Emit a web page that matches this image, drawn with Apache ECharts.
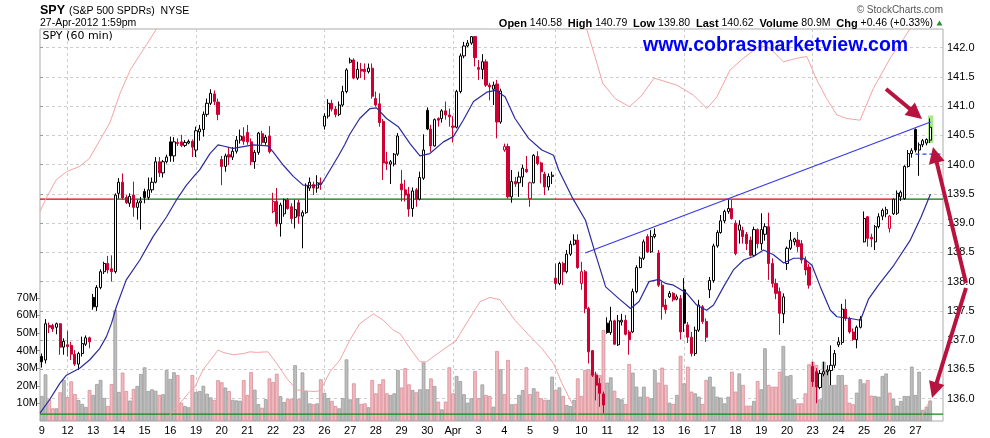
<!DOCTYPE html>
<html><head><meta charset="utf-8">
<script src="https://cdn.jsdelivr.net/npm/echarts@6/dist/echarts.min.js"></script>
<style>html,body{margin:0;padding:0;background:#fff}#c{width:990px;height:438px}</style>
</head><body><div id="c"></div>
<script>
// ---------- data ----------
const dayLabels = ['9','12','13','14','15','16','19','20','21','22','23','26','27','28','29','30','Apr','3','4','5','9','10','11','12','13','16','17','18','19','20','23','24','25','26','27'];
const barsPerDay = [7,7,7,7,7,7,7,7,7,7,7,7,7,7,7,7,7,7,7,7,7,7,7,7,7,7,7,7,7,7,7,7,7,7,5];
const weekStartDays = [1,6,11,16,20,25,30];

const open = [
136.72,136.66,137.25,137.25,137.22,137.28,136.88,
136.92,136.91,136.76,136.59,136.77,136.93,137.04,
137.73,137.57,137.90,138.17,138.31,138.22,138.17,
139.51,139.70,139.44,139.34,139.48,139.27,139.35,
139.54,139.44,139.57,139.70,140.05,139.86,140.05,
140.39,140.15,140.36,140.39,140.33,140.37,140.40,
140.25,140.56,140.60,140.86,141.05,141.21,141.07,
140.09,139.97,140.17,140.13,140.23,140.42,140.48,
140.55,140.39,140.05,140.21,140.53,140.38,140.49,
139.20,139.37,138.99,139.16,139.40,139.28,139.10,
139.35,139.12,139.18,139.60,139.66,139.60,139.69,
140.66,140.83,141.05,140.95,140.86,141.02,141.25,
141.75,141.79,141.48,141.63,141.63,141.59,141.65,
141.13,141.04,140.74,140.05,140.01,140.01,140.18,
139.67,139.57,139.50,139.25,139.57,139.41,139.77,
140.93,140.61,140.32,140.79,140.79,140.92,140.85,
140.66,140.64,141.25,141.86,142.03,142.08,142.19,
141.66,141.63,141.76,141.36,141.29,141.38,140.73,
140.25,140.31,139.45,139.71,139.69,139.79,139.92,
139.42,139.69,140.14,140.03,139.84,139.62,139.80,
138.06,137.97,138.31,138.17,138.47,138.64,138.71,
137.97,138.17,137.54,136.82,136.40,136.26,136.08,
137.29,137.13,137.33,136.92,137.31,137.34,137.14,
137.14,137.83,138.24,138.40,138.77,138.51,138.77,
138.49,137.94,137.60,137.74,137.80,137.70,137.71,
137.86,137.26,137.05,136.77,137.17,137.57,137.32,
137.86,138.02,138.61,138.84,139.04,139.20,139.25,
139.00,138.88,138.88,138.81,138.71,138.45,138.89,
138.65,138.81,138.94,138.31,137.97,137.83,137.45,
138.31,138.57,138.68,138.71,138.65,138.37,138.25,
136.55,136.46,136.19,136.42,136.46,136.48,136.57,
136.92,136.96,137.53,137.37,137.14,137.01,137.22,
138.68,139.11,138.76,138.68,138.94,139.12,139.16,
138.91,139.16,139.17,139.45,139.42,139.97,140.19,
140.60,140.25,140.34,140.37,140.42];
const high = [
136.77,137.36,137.30,137.28,137.30,137.29,137.03,
137.16,136.97,136.83,136.80,137.06,137.08,137.06,
137.79,137.94,138.21,138.34,138.44,138.45,139.51,
139.77,139.85,139.48,139.51,139.71,139.40,139.45,
139.59,139.78,139.78,140.13,140.13,140.08,140.17,
140.48,140.47,140.45,140.51,140.42,140.43,140.43,
140.65,140.68,140.91,141.13,141.29,141.27,141.13,
140.15,140.19,140.30,140.30,140.49,140.60,140.64,
140.68,140.45,140.25,140.56,140.58,140.51,140.66,
139.52,139.60,139.35,139.42,139.43,139.34,139.40,
139.40,139.22,139.68,139.78,139.71,139.82,139.78,
140.88,141.12,141.11,141.00,141.08,141.35,141.65,
141.83,141.82,141.76,141.74,141.73,141.73,141.73,
141.25,141.22,140.78,140.22,140.08,140.20,140.54,
139.91,139.74,139.62,139.61,139.60,139.88,140.52,
140.98,140.68,140.79,140.81,140.95,141.08,140.96,
140.83,141.28,141.90,142.10,142.13,142.20,142.20,
141.79,141.89,141.80,141.40,141.42,141.45,141.30,
140.36,140.36,139.91,139.79,139.88,140.00,140.15,
139.71,140.18,140.23,140.05,139.88,139.85,139.88,
138.31,138.34,138.34,138.54,138.70,138.81,138.81,
138.34,138.20,137.57,136.83,136.46,136.35,136.12,
137.39,137.57,137.35,137.43,137.45,137.43,137.17,
137.88,138.28,138.43,138.72,138.81,138.88,138.91,
138.54,138.00,137.70,137.84,137.82,137.78,137.77,
138.06,137.31,137.14,137.23,137.69,137.60,137.37,
138.08,138.65,138.88,139.14,139.23,139.40,139.40,
139.05,139.05,138.94,138.85,138.77,138.94,138.91,
139.17,139.00,139.18,138.40,138.05,137.90,137.80,
138.60,138.85,138.75,138.85,138.71,138.43,138.30,
136.63,136.52,136.49,136.63,136.57,136.91,136.83,
137.05,137.62,137.70,137.40,137.20,137.25,137.41,
139.20,139.12,138.82,138.97,139.17,139.25,139.28,
139.14,139.42,139.56,139.56,139.99,140.25,140.28,
140.62,140.38,140.44,140.45,140.79];
const low = [
136.53,136.60,137.12,137.14,137.10,136.75,136.75,
136.72,136.66,136.56,136.49,136.72,136.90,136.86,
137.52,137.50,137.87,138.13,138.14,138.00,138.14,
139.42,139.40,139.33,139.28,139.11,139.06,138.89,
139.34,139.40,139.52,139.68,139.79,139.78,140.02,
140.05,140.05,140.32,140.30,140.30,140.35,140.13,
140.13,140.41,140.48,140.82,141.02,141.02,140.76,
139.65,139.88,139.99,140.08,140.19,140.36,140.34,
140.34,139.99,139.93,140.17,140.34,140.34,140.19,
139.17,138.94,138.77,139.11,139.23,138.99,138.91,
138.99,138.57,139.16,139.55,139.48,139.52,139.57,
140.60,140.79,140.91,140.81,140.83,140.99,141.22,
141.73,141.46,141.45,141.48,141.45,141.56,141.13,
140.99,140.65,139.74,139.91,139.67,139.97,140.15,
139.37,139.37,139.11,139.11,139.28,139.39,139.74,
140.59,140.22,140.31,140.65,140.72,140.77,140.65,
140.38,140.62,141.22,141.82,142.01,142.05,141.68,
141.45,141.46,141.33,141.10,141.02,140.45,140.70,
140.22,139.42,139.35,139.62,139.45,139.62,139.86,
139.28,139.68,139.99,139.68,139.48,139.56,139.67,
137.86,137.94,137.94,138.14,138.44,138.62,138.22,
137.86,137.46,136.60,136.37,135.97,135.86,135.75,
137.11,137.09,136.92,136.90,137.25,137.08,136.75,
137.12,137.80,138.23,138.37,138.49,138.49,138.74,
137.91,137.35,137.45,137.72,137.66,137.68,137.01,
137.14,136.95,136.72,136.73,137.14,137.28,136.97,
137.72,137.98,138.58,138.82,139.00,139.16,139.06,
138.45,138.65,138.65,138.54,138.43,138.43,138.57,
138.54,138.70,138.03,137.90,137.70,137.09,137.29,
138.20,138.54,138.62,138.51,138.31,138.11,137.88,
136.20,135.92,136.16,136.38,136.40,136.23,136.52,
136.88,136.92,137.33,137.11,136.99,136.86,137.20,
138.67,138.60,138.59,138.54,138.91,139.05,139.10,
138.84,139.14,139.14,139.38,139.40,139.95,140.12,
140.21,139.81,140.30,140.33,140.37];
const close = [
136.63,137.28,137.22,137.19,137.28,136.88,136.98,
136.89,136.76,136.59,136.77,136.94,137.04,136.97,
137.57,137.90,138.17,138.31,138.20,138.17,139.48,
139.70,139.43,139.35,139.46,139.27,139.35,139.38,
139.44,139.57,139.70,140.05,139.86,140.05,140.13,
140.15,140.39,140.38,140.33,140.38,140.40,140.30,
140.58,140.61,140.86,141.05,141.22,141.08,140.86,
139.97,140.15,140.13,140.23,140.42,140.49,140.40,
140.39,140.05,140.21,140.54,140.38,140.47,140.22,
139.37,138.99,139.31,139.40,139.25,139.08,139.23,
139.12,139.18,139.64,139.70,139.60,139.69,139.66,
140.83,141.05,140.95,140.86,141.02,141.25,141.62,
141.79,141.48,141.63,141.60,141.59,141.65,141.17,
141.02,140.72,140.03,140.02,140.05,140.18,140.49,
139.57,139.48,139.24,139.55,139.41,139.78,140.25,
140.61,140.32,140.77,140.76,140.92,140.85,140.82,
140.64,141.25,141.86,142.03,142.08,142.19,141.83,
141.63,141.76,141.36,141.33,141.36,140.73,141.26,
140.31,139.45,139.71,139.67,139.79,139.94,139.88,
139.69,140.16,140.02,139.88,139.62,139.80,139.82,
137.97,138.31,138.17,138.47,138.64,138.71,138.24,
138.17,137.54,136.80,136.40,136.23,136.09,135.89,
137.13,137.33,136.93,137.33,137.34,137.10,137.01,
137.83,138.24,138.40,138.68,138.51,138.77,138.81,
137.94,137.57,137.52,137.80,137.69,137.74,137.14,
137.29,137.05,136.77,137.17,137.60,137.32,137.05,
138.02,138.61,138.84,139.04,139.20,139.25,139.08,
138.48,138.97,138.77,138.65,138.45,138.89,138.65,
138.89,138.94,138.31,137.97,137.80,137.46,137.74,
138.57,138.71,138.73,138.60,138.37,138.20,137.94,
136.29,136.20,136.43,136.46,136.49,136.57,136.77,
136.97,137.53,137.37,137.14,137.01,137.22,137.36,
139.08,138.74,138.73,138.94,139.11,139.22,139.23,
139.12,139.41,139.51,139.53,139.97,140.19,140.24,
140.25,140.34,140.41,140.43,140.64];
// volume in millions
const volume = [
14.2,26.5,12.3,7.2,7.2,16.3,23.3,
13.6,22.5,15.3,11.9,9.7,8.0,17.6,
14.8,21.0,23.3,13.1,8.5,21.0,63.1,
16.5,27.5,17.0,11.6,18.2,19.9,26.7,
30.5,17.0,18.0,17.2,14.8,15.2,29.0,
23.9,27.7,26.1,10.4,8.5,7.8,26.1,
16.5,17.0,20.0,15.5,13.4,12.0,23.2,
22.0,19.0,17.0,12.0,11.7,11.5,23.2,
14.8,27.8,17.8,9.6,7.5,12.4,24.2,
22.1,26.9,14.1,10.8,12.4,12.7,31.7,
12.4,27.6,17.0,10.0,9.5,10.0,23.7,
16.0,13.0,11.4,8.5,7.2,13.0,35.0,
12.3,21.4,12.9,9.7,10.0,7.8,23.3,
15.7,21.0,23.7,15.7,14.8,15.7,29.0,
19.0,30.0,20.8,17.6,16.3,18.0,33.3,
18.0,24.2,19.9,11.0,6.6,11.0,30.5,
15.7,25.6,22.7,15.2,10.4,12.9,28.4,
12.9,20.8,14.8,14.2,8.1,39.8,29.4,
15.3,34.7,9.5,9.7,14.8,17.6,30.5,
15.3,18.6,16.7,12.9,12.0,12.0,25.2,
17.6,19.1,14.2,9.1,8.5,12.0,24.2,
14.2,29.0,29.4,27.5,27.0,26.0,51.7,
21.8,24.8,17.2,12.9,12.3,9.7,32.4,
27.5,19.5,13.8,19.5,13.8,12.9,29.0,
21.8,30.3,20.5,10.4,9.7,14.8,37.0,
21.4,30.9,16.7,15.7,13.8,9.7,23.3,
25.2,19.5,13.8,13.3,10.0,13.8,28.0,
16.7,27.0,20.5,8.7,8.7,11.4,22.7,
18.0,41.3,20.5,19.5,19.5,28.0,42.6,
25.6,26.1,12.3,10.0,10.0,15.7,32.2,
33.7,31.8,12.3,33.7,29.0,20.5,20.5,
26.1,26.1,20.5,10.4,9.5,16.1,23.7,
21.4,23.3,14.4,14.2,13.8,25.6,27.0,
16.1,12.5,8.7,11.4,14.2,14.2,30.9,
14.8,28.0,6.3,8.1,11.6];

// Bollinger band overlays: [bar position, price]
const bbUpper = [[0,139.20],[1.7,139.43],[4.4,139.74],[7.2,139.88],[10.8,139.97],[13.5,140.11],[16.3,140.42],[19.0,140.71],[21.8,141.22],[24.6,141.62],[26.3,141.79],[29,142.05],[31.7,142.32],[36,142.9],[45,143.5],[55,143.85],[70,143.42],[90,144.47],[104,143.7],[120,144.66],[140,143.72],[146,142.9],[149.0,142.30],[151.2,141.85],[153.3,141.39],[156.7,141.13],[160.6,140.99],[164.0,141.19],[167.3,141.48],[170.4,141.42],[173.5,141.36],[178,141.19],[181.7,140.96],[184.4,141.16],[188.0,141.62],[191.6,141.82],[196.2,142.04],[198.9,141.99],[202.5,141.76],[206.2,141.82],[208.9,141.85],[211.6,141.45],[214.3,141.13],[217.1,140.85],[219.8,140.79],[223.4,140.76],[227.0,141.30],[231.6,141.82],[235.3,142.16],[237.0,142.32],[240,142.8],[242.5,143.1]];
const bbMiddle = [[0,135.75],[2.6,135.98],[5.4,136.26],[7.2,136.40],[9,136.46],[10.8,136.52],[13.5,136.66],[16.3,136.86],[18.1,137.06],[19.5,137.29],[20.8,137.57],[23.5,138.03],[27.2,138.37],[30.8,138.77],[34.5,139.11],[37.2,139.40],[39.9,139.65],[42.2,139.82],[43.5,139.91],[46.3,140.19],[48.5,140.34],[49.9,140.32],[52.6,140.28],[55.4,140.31],[58.1,140.34],[62.1,140.32],[63.5,140.22],[66.3,139.99],[69.0,139.80],[71.7,139.65],[74.5,139.64],[76.7,139.67],[79.0,139.91],[81.2,140.14],[83.0,140.34],[84.4,140.52],[87.1,140.79],[89.9,140.96],[91.7,140.97],[94.4,140.79],[97.6,140.65],[100.8,140.36],[103.5,140.15],[106.2,140.19],[109.9,140.39],[112.6,140.48],[115.3,140.76],[118.1,141.08],[121.7,141.24],[124.2,141.27],[126.7,141.16],[129.4,140.79],[133.1,140.45],[136.7,140.25],[139.9,140.16],[141.3,139.91],[144.9,139.45],[148.6,139.05],[151.3,138.48],[154.1,137.91],[157.7,137.71],[160.9,137.54],[163.2,137.66],[165.9,138.0],[168.6,138.04],[170.4,137.97],[172.6,137.94],[176.2,137.80],[178.9,137.60],[181.6,137.51],[183.5,137.60],[186.2,137.91],[188.9,138.20],[191.7,138.37],[194.4,138.43],[197.1,138.54],[199.8,138.46],[202.6,138.32],[205.3,138.40],[208.0,138.40],[210.3,138.28],[212.6,137.91],[215.3,137.51],[217.1,137.40],[220.8,137.37],[223.5,137.34],[225.7,137.70],[228.5,137.95],[232.6,138.28],[237,138.70],[240,139.10],[242.6,139.50]];
const bbLower = [[0,132.3],[20,134.3],[31,135.3],[34,135.62],[38.1,135.92],[40.8,136.12],[42.2,136.20],[44.4,136.49],[48.5,136.83],[49.9,136.79],[52.6,136.75],[55.4,136.77],[57.2,136.80],[59.0,136.79],[62.1,136.80],[64.5,136.60],[67.2,136.35],[69.9,136.15],[72.7,136.13],[75.0,136.12],[76.4,136.14],[79.0,136.46],[81.7,136.66],[84.4,137.0],[87.1,137.28],[90.8,137.45],[93.5,137.34],[96.3,137.17],[98.1,137.11],[100.8,136.86],[103.5,136.63],[105.3,136.63],[109.0,136.80],[111.7,136.92],[113.1,136.97],[116.2,137.29],[119.9,137.66],[122.6,137.73],[125.3,137.69],[129.4,137.34],[133.1,137.09],[136.7,136.86],[139.9,136.60],[142.2,136.26],[144.9,135.92],[147.2,135.63],[150,135.2],[160,134.1],[175,134.3],[190,134.85],[205,134.5],[220,133.95],[232,134.2],[237,135.0],[239.4,135.62],[242.6,135.98]];

const trendLine = [[148.5,138.49],[242.6,140.73]];
const levelPrice = 139.41;
const levelSegments = [[0,20,'#e00000'],[20,140,'#007800'],[140,232.5,'#e00000'],[232.5,246,'#007800']];
const prevClose = 140.18, prevCloseFrom = 238.5;
const volumeRefLine = 3.9;
const priceTicks = [136.0,136.5,137.0,137.5,138.0,138.5,139.0,139.5,140.0,140.5,141.0,141.5,142.0];
const volumeTicks = [10,20,30,40,50,60,70];
const highlight = {from:241.9, to:243.35, low:140.37, high:140.84};

// ---------- build ----------
const dayStart = []; let acc = 0;
barsPerDay.forEach(n => { dayStart.push(acc); acc += n; });
const nBars = acc;
const labelPos = dayStart.map(s => s + 0.5);
const labelMap = {}; labelPos.forEach((p, i) => { labelMap[p.toFixed(1)] = dayLabels[i]; });
const weekPos = weekStartDays.map(d => dayStart[d] + 0.5);

const RED = '#cc0033';
const upC = [], dnC = [], volData = [];
for (let i = 0; i < nBars; i++) {
  const up = i === 0 ? true : close[i] >= close[i - 1];
  const item = [i + 0.5, open[i], close[i], low[i], high[i]];
  (up ? upC : dnC).push(item);
  volData.push({value: [i + 0.5, volume[i]],
    itemStyle: up ? {color: '#bdbdbd', borderColor: '#9c9c9c'} : {color: '#efbac0', borderColor: '#dc8d97'}});
}

const FONT = 'Liberation Sans';
const series = [
  {type: 'bar', name: 'vol', xAxisIndex: 0, yAxisIndex: 1, data: volData, barWidth: 3.7, z: 2, silent: true,
   itemStyle: {borderWidth: 0.8}},
  {type: 'line', xAxisIndex: 0, yAxisIndex: 1, data: [[0, volumeRefLine], [246, volumeRefLine]], symbol: 'none', z: 3, silent: true,
   lineStyle: {color: '#118a11', width: 1.3}}
];
levelSegments.forEach((s, k) => {
  const ser = {type: 'line', data: [[s[0], levelPrice], [s[1], levelPrice]], symbol: 'none', z: 4, silent: true,
    lineStyle: {color: s[2], width: 1.2}};
  if (k === 0) {
    ser.markArea = {silent: true, itemStyle: {color: '#a9e68e'},
      data: [[{xAxis: highlight.from, yAxis: highlight.low}, {xAxis: highlight.to, yAxis: highlight.high}]]};
  }
  series.push(ser);
});
series.push(
  {type: 'candlestick', data: upC, barWidth: 2.6, z: 5, silent: true,
   itemStyle: {color: '#ffffff', color0: '#000000', borderColor: '#000000', borderColor0: '#000000', borderWidth: 1}},
  {type: 'candlestick', data: dnC, barWidth: 2.6, z: 5, silent: true,
   itemStyle: {color: '#ffffff', color0: RED, borderColor: RED, borderColor0: RED, borderWidth: 1}},
  {type: 'line', data: bbUpper, symbol: 'none', z: 6, silent: true, lineStyle: {color: '#f4a3a3', width: 1}},
  {type: 'line', data: bbLower, symbol: 'none', z: 6, silent: true, lineStyle: {color: '#f4a3a3', width: 1}},
  {type: 'line', data: bbMiddle, symbol: 'none', z: 6, silent: true, lineStyle: {color: '#2a2a9e', width: 1.2}},
  {type: 'line', data: trendLine, symbol: 'none', z: 7, silent: true, lineStyle: {color: '#3838f0', width: 1.2}},
  {type: 'line', data: [[prevCloseFrom, prevClose], [246, prevClose]], symbol: 'none', z: 7, silent: true,
   lineStyle: {color: '#2244ee', width: 1.2, type: [4, 3]}}
);

// arrows (annotation graphics, pixel space)
const ARROW = '#b8123e';
function arrow(x1, y1, x2, y2) {
  const dx = x2 - x1, dy = y2 - y1, len = Math.hypot(dx, dy);
  const ux = dx / len, uy = dy / len, L = 16, W = 8;
  const bx = x2 - ux * L, by = y2 - uy * L;
  return [
    {type: 'line', z: 100, shape: {x1: x1, y1: y1, x2: bx + ux * 2, y2: by + uy * 2}, style: {stroke: ARROW, lineWidth: 4}},
    {type: 'polygon', z: 100, shape: {points: [[x2, y2], [bx - uy * W, by + ux * W], [bx + uy * W, by - ux * W]]}, style: {fill: ARROW}}
  ];
}
function txt(x, y, text, font, fill, align, extra) {
  return Object.assign({type: 'text', x: x, y: y, z: 100, silent: true,
    style: Object.assign({text: text, font: font, fill: fill || '#000', align: align || 'left', textAlign: align || 'left',
      verticalAlign: 'middle', textVerticalAlign: 'middle'}, extra || {})});
}

const graphics = [
  txt(40, 11, 'SPY', 'bold 12.5px "' + FONT + '"'),
  txt(69, 11.5, '(S&P 500 SPDRs)  NYSE', '10.5px "' + FONT + '"'),
  txt(40, 23.5, '27-Apr-2012 1:59pm', '10.5px "' + FONT + '"'),
  txt(943, 10.5, '\u00A9 StockCharts.com', '10px "' + FONT + '"', '#555', 'right'),
  txt(933, 23.5, '{b|Open} 140.58  {b|High} 140.79  {b|Low} 139.80  {b|Last} 140.62  {b|Volume} 80.9M  {b|Chg} +0.46 (+0.33%)',
      '10.5px "' + FONT + '"', '#000', 'right',
      {rich: {b: {fontWeight: 'bold', fontSize: 11, fontFamily: FONT, fill: '#000'}}}),
  {type: 'polygon', z: 100, shape: {points: [[936.5, 25.5], [942.5, 25.5], [939.5, 20.5]]}, style: {fill: '#2f8f2f'}},
  txt(42.5, 36, 'SPY (60 min)', '11px "DejaVu Sans"'),
  txt(643, 46, 'www.cobrasmarketview.com', 'bold 19.5px "' + FONT + '"', '#0000ff')
].concat(arrow(886, 89, 922, 119), arrow(966, 283, 933, 147), arrow(966, 288, 932, 398));

const chart = echarts.init(document.getElementById('c'), null, {renderer: 'canvas'});
chart.setOption({
  animation: false,
  backgroundColor: '#ffffff',
  textStyle: {fontFamily: FONT},
  grid: {left: 40, right: 47, top: 29, bottom: 17, show: true, borderColor: '#ababab', borderWidth: 1,
         backgroundColor: '#ffffff', containLabel: false, outerBoundsMode: 'none'},
  xAxis: [
    {type: 'value', min: 0, max: 246, axisLine: {show: false}, splitLine: {show: false},
     axisTick: {show: false, customValues: labelPos},
     axisLabel: {customValues: labelPos, formatter: v => labelMap[(+v).toFixed(1)] || '', fontFamily: FONT, fontSize: 11, color: '#000', margin: 4}},
    {type: 'value', min: 0, max: 246, axisLine: {show: false}, axisLabel: {show: false},
     axisTick: {show: false, customValues: weekPos},
     splitLine: {show: true, lineStyle: {color: '#cdcdcd', type: [3, 3], width: 1}}}
  ],
  yAxis: [
    {type: 'value', position: 'right', min: 135.617, max: 142.32, axisLine: {show: false},
     axisTick: {show: true, length: 3, customValues: priceTicks, lineStyle: {color: '#999'}},
     axisLabel: {customValues: priceTicks, formatter: v => (+v).toFixed(1), fontFamily: FONT, fontSize: 11, color: '#000', margin: 4},
     splitLine: {show: true, lineStyle: {color: '#cdcdcd', type: [3, 3], width: 1}}},
    {type: 'value', position: 'left', min: 0, max: 222.7, axisLine: {show: false},
     axisTick: {show: true, length: 3, customValues: volumeTicks, lineStyle: {color: '#999'}},
     axisLabel: {customValues: volumeTicks, formatter: v => v + 'M', fontFamily: FONT, fontSize: 11, color: '#000', margin: 2},
     splitLine: {show: false}}
  ],
  series: series,
  graphic: graphics
});
</script></body></html>
